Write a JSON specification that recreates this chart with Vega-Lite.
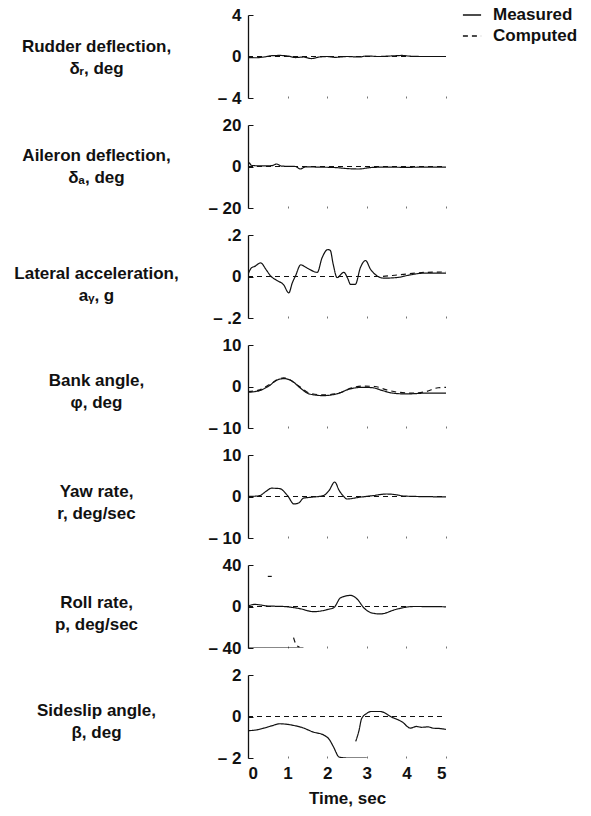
{
"$schema": "https://vega.github.io/schema/vega-lite/v6.json",
"background": "white",
"padding": {"left": 13, "top": 5, "right": 5, "bottom": 5},
"spacing": 27,
"bounds": "flush",
"resolve": {"scale": {"strokeDash": "shared"}, "legend": {"strokeDash": "shared"}},
"config": {
  "font": "Liberation Sans",
  "view": {"stroke": null},
  "axis": {"labelFont": "Liberation Sans", "labelFontWeight": "bold", "labelFontSize": 17, "labelColor": "#111", "titleFont": "Liberation Sans", "titleFontWeight": "bold", "titleFontSize": 17, "titleColor": "#111", "grid": false, "domainColor": "#111", "tickColor": "#111"},
  "axisY": {"domainWidth": 1.3, "tickSize": -5, "tickWidth": 1, "labelPadding": 12, "titleAngle": 0, "titleAlign": "center", "titleBaseline": "middle", "titleX": -152, "titleLineHeight": 22,
    "labelExpr": "(datum.value < 0 ? '– ' : '') + replace(toString(abs(datum.value)), '0.', '.')"},
  "axisX": {"domain": false, "tickSize": -2, "tickColor": "#777", "values": [0, 1, 2, 3, 4, 5]},
  "legend": {"orient": "none", "legendX": 214, "legendY": -10, "title": null, "labelFont": "Liberation Sans", "labelFontWeight": "bold", "labelFontSize": 17, "labelColor": "#111", "symbolType": "stroke", "symbolSize": 330, "symbolStrokeWidth": 1.3, "symbolStrokeColor": "#111", "rowPadding": 3, "labelOffset": 11}
},
"datasets": {"d": [
{"p":"rud","s":"Measured","g":"m1","t":0,"v":-0.1},{"p":"rud","s":"Measured","g":"m1","t":0.2,"v":-0.12},{"p":"rud","s":"Measured","g":"m1","t":0.4,"v":-0.05},{"p":"rud","s":"Measured","g":"m1","t":0.6,"v":0.08},{"p":"rud","s":"Measured","g":"m1","t":0.8,"v":0.1},{"p":"rud","s":"Measured","g":"m1","t":1.0,"v":0.05},{"p":"rud","s":"Measured","g":"m1","t":1.2,"v":-0.1},{"p":"rud","s":"Measured","g":"m1","t":1.4,"v":-0.05},{"p":"rud","s":"Measured","g":"m1","t":1.6,"v":-0.2},{"p":"rud","s":"Measured","g":"m1","t":1.8,"v":-0.05},{"p":"rud","s":"Measured","g":"m1","t":2.0,"v":0.0},{"p":"rud","s":"Measured","g":"m1","t":2.2,"v":-0.08},{"p":"rud","s":"Measured","g":"m1","t":2.5,"v":0.0},{"p":"rud","s":"Measured","g":"m1","t":2.8,"v":-0.05},{"p":"rud","s":"Measured","g":"m1","t":3.0,"v":0.05},{"p":"rud","s":"Measured","g":"m1","t":3.3,"v":0.0},{"p":"rud","s":"Measured","g":"m1","t":3.6,"v":0.05},{"p":"rud","s":"Measured","g":"m1","t":3.9,"v":0.1},{"p":"rud","s":"Measured","g":"m1","t":4.1,"v":0.03},{"p":"rud","s":"Measured","g":"m1","t":4.4,"v":0.0},{"p":"rud","s":"Measured","g":"m1","t":5.0,"v":0.0},
{"p":"rud","s":"Computed","g":"c1","t":0,"v":0},{"p":"rud","s":"Computed","g":"c1","t":5,"v":0},
{"p":"ail","s":"Measured","g":"m1","t":0,"v":0},{"p":"ail","s":"Measured","g":"m1","t":0.03,"v":1.8},{"p":"ail","s":"Measured","g":"m1","t":0.08,"v":0.6},{"p":"ail","s":"Measured","g":"m1","t":0.3,"v":0.3},{"p":"ail","s":"Measured","g":"m1","t":0.6,"v":0.4},{"p":"ail","s":"Measured","g":"m1","t":0.72,"v":1.2},{"p":"ail","s":"Measured","g":"m1","t":0.85,"v":0.2},{"p":"ail","s":"Measured","g":"m1","t":1.2,"v":0.0},{"p":"ail","s":"Measured","g":"m1","t":1.32,"v":-1.2},{"p":"ail","s":"Measured","g":"m1","t":1.45,"v":-0.2},{"p":"ail","s":"Measured","g":"m1","t":1.8,"v":-0.3},{"p":"ail","s":"Measured","g":"m1","t":2.2,"v":-0.5},{"p":"ail","s":"Measured","g":"m1","t":2.5,"v":-1.0},{"p":"ail","s":"Measured","g":"m1","t":2.8,"v":-1.2},{"p":"ail","s":"Measured","g":"m1","t":3.1,"v":-0.5},{"p":"ail","s":"Measured","g":"m1","t":3.5,"v":-0.3},{"p":"ail","s":"Measured","g":"m1","t":4.0,"v":-0.4},{"p":"ail","s":"Measured","g":"m1","t":4.5,"v":-0.3},{"p":"ail","s":"Measured","g":"m1","t":5.0,"v":-0.3},
{"p":"ail","s":"Computed","g":"c1","t":0,"v":0},{"p":"ail","s":"Computed","g":"c1","t":5,"v":0},
{"p":"lat","s":"Measured","g":"m1","t":0,"v":0.01},{"p":"lat","s":"Measured","g":"m1","t":0.08,"v":0.04},{"p":"lat","s":"Measured","g":"m1","t":0.18,"v":0.05},{"p":"lat","s":"Measured","g":"m1","t":0.32,"v":0.066},{"p":"lat","s":"Measured","g":"m1","t":0.45,"v":0.035},{"p":"lat","s":"Measured","g":"m1","t":0.57,"v":0.003},{"p":"lat","s":"Measured","g":"m1","t":0.74,"v":-0.02},{"p":"lat","s":"Measured","g":"m1","t":0.9,"v":-0.04},{"p":"lat","s":"Measured","g":"m1","t":1.03,"v":-0.079},{"p":"lat","s":"Measured","g":"m1","t":1.12,"v":-0.03},{"p":"lat","s":"Measured","g":"m1","t":1.2,"v":0.003},{"p":"lat","s":"Measured","g":"m1","t":1.33,"v":0.056},{"p":"lat","s":"Measured","g":"m1","t":1.5,"v":0.04},{"p":"lat","s":"Measured","g":"m1","t":1.75,"v":0.02},{"p":"lat","s":"Measured","g":"m1","t":1.87,"v":0.09},{"p":"lat","s":"Measured","g":"m1","t":2.02,"v":0.13},{"p":"lat","s":"Measured","g":"m1","t":2.08,"v":0.125},{"p":"lat","s":"Measured","g":"m1","t":2.15,"v":0.06},{"p":"lat","s":"Measured","g":"m1","t":2.25,"v":-0.005},{"p":"lat","s":"Measured","g":"m1","t":2.42,"v":0.02},{"p":"lat","s":"Measured","g":"m1","t":2.52,"v":-0.01},{"p":"lat","s":"Measured","g":"m1","t":2.59,"v":-0.038},{"p":"lat","s":"Measured","g":"m1","t":2.71,"v":-0.038},{"p":"lat","s":"Measured","g":"m1","t":2.84,"v":0.044},{"p":"lat","s":"Measured","g":"m1","t":2.97,"v":0.077},{"p":"lat","s":"Measured","g":"m1","t":3.09,"v":0.036},{"p":"lat","s":"Measured","g":"m1","t":3.26,"v":0.003},{"p":"lat","s":"Measured","g":"m1","t":3.43,"v":-0.008},{"p":"lat","s":"Measured","g":"m1","t":3.76,"v":-0.005},{"p":"lat","s":"Measured","g":"m1","t":4.1,"v":0.008},{"p":"lat","s":"Measured","g":"m1","t":4.44,"v":0.016},{"p":"lat","s":"Measured","g":"m1","t":5.0,"v":0.016},
{"p":"lat","s":"Computed","g":"c1","t":0,"v":0},{"p":"lat","s":"Computed","g":"c1","t":3.3,"v":0},{"p":"lat","s":"Computed","g":"c1","t":3.8,"v":0.008},{"p":"lat","s":"Computed","g":"c1","t":4.5,"v":0.02},{"p":"lat","s":"Computed","g":"c1","t":5.0,"v":0.022},
{"p":"bank","s":"Measured","g":"m1","t":0,"v":-1.4},{"p":"bank","s":"Measured","g":"m1","t":0.29,"v":-1.0},{"p":"bank","s":"Measured","g":"m1","t":0.45,"v":-0.3},{"p":"bank","s":"Measured","g":"m1","t":0.55,"v":0.25},{"p":"bank","s":"Measured","g":"m1","t":0.71,"v":1.5},{"p":"bank","s":"Measured","g":"m1","t":0.92,"v":1.9},{"p":"bank","s":"Measured","g":"m1","t":1.13,"v":1.2},{"p":"bank","s":"Measured","g":"m1","t":1.3,"v":-0.2},{"p":"bank","s":"Measured","g":"m1","t":1.55,"v":-1.8},{"p":"bank","s":"Measured","g":"m1","t":1.9,"v":-2.2},{"p":"bank","s":"Measured","g":"m1","t":2.23,"v":-1.8},{"p":"bank","s":"Measured","g":"m1","t":2.57,"v":-0.6},{"p":"bank","s":"Measured","g":"m1","t":2.9,"v":-0.2},{"p":"bank","s":"Measured","g":"m1","t":3.15,"v":-0.3},{"p":"bank","s":"Measured","g":"m1","t":3.4,"v":-1.0},{"p":"bank","s":"Measured","g":"m1","t":3.66,"v":-1.6},{"p":"bank","s":"Measured","g":"m1","t":4.0,"v":-1.8},{"p":"bank","s":"Measured","g":"m1","t":4.5,"v":-1.6},{"p":"bank","s":"Measured","g":"m1","t":5.0,"v":-1.6},
{"p":"bank","s":"Computed","g":"c1","t":0,"v":-1.2},{"p":"bank","s":"Computed","g":"c1","t":0.3,"v":-0.8},{"p":"bank","s":"Computed","g":"c1","t":0.55,"v":0.5},{"p":"bank","s":"Computed","g":"c1","t":0.9,"v":2.1},{"p":"bank","s":"Computed","g":"c1","t":1.3,"v":0.0},{"p":"bank","s":"Computed","g":"c1","t":1.55,"v":-1.6},{"p":"bank","s":"Computed","g":"c1","t":1.9,"v":-2.0},{"p":"bank","s":"Computed","g":"c1","t":2.3,"v":-1.6},{"p":"bank","s":"Computed","g":"c1","t":2.6,"v":-0.4},{"p":"bank","s":"Computed","g":"c1","t":2.9,"v":0.1},{"p":"bank","s":"Computed","g":"c1","t":3.2,"v":0.0},{"p":"bank","s":"Computed","g":"c1","t":3.5,"v":-0.8},{"p":"bank","s":"Computed","g":"c1","t":3.8,"v":-1.4},{"p":"bank","s":"Computed","g":"c1","t":4.2,"v":-1.6},{"p":"bank","s":"Computed","g":"c1","t":4.5,"v":-1.2},{"p":"bank","s":"Computed","g":"c1","t":4.8,"v":-0.3},{"p":"bank","s":"Computed","g":"c1","t":5.0,"v":-0.2},
{"p":"yaw","s":"Measured","g":"m1","t":0,"v":0},{"p":"yaw","s":"Measured","g":"m1","t":0.29,"v":0.2},{"p":"yaw","s":"Measured","g":"m1","t":0.45,"v":1.2},{"p":"yaw","s":"Measured","g":"m1","t":0.59,"v":2.0},{"p":"yaw","s":"Measured","g":"m1","t":0.8,"v":1.9},{"p":"yaw","s":"Measured","g":"m1","t":1.0,"v":0.2},{"p":"yaw","s":"Measured","g":"m1","t":1.16,"v":-1.8},{"p":"yaw","s":"Measured","g":"m1","t":1.29,"v":-1.5},{"p":"yaw","s":"Measured","g":"m1","t":1.4,"v":-0.4},{"p":"yaw","s":"Measured","g":"m1","t":1.57,"v":-0.2},{"p":"yaw","s":"Measured","g":"m1","t":1.9,"v":0.2},{"p":"yaw","s":"Measured","g":"m1","t":2.05,"v":1.5},{"p":"yaw","s":"Measured","g":"m1","t":2.19,"v":3.5},{"p":"yaw","s":"Measured","g":"m1","t":2.3,"v":1.5},{"p":"yaw","s":"Measured","g":"m1","t":2.4,"v":0.2},{"p":"yaw","s":"Measured","g":"m1","t":2.5,"v":-0.6},{"p":"yaw","s":"Measured","g":"m1","t":2.8,"v":-0.2},{"p":"yaw","s":"Measured","g":"m1","t":3.15,"v":0.2},{"p":"yaw","s":"Measured","g":"m1","t":3.5,"v":0.6},{"p":"yaw","s":"Measured","g":"m1","t":3.76,"v":0.4},{"p":"yaw","s":"Measured","g":"m1","t":3.93,"v":0.1},{"p":"yaw","s":"Measured","g":"m1","t":5.0,"v":-0.1},
{"p":"yaw","s":"Computed","g":"c1","t":0,"v":0},{"p":"yaw","s":"Computed","g":"c1","t":5,"v":0},
{"p":"roll","s":"Measured","g":"m1","t":0,"v":0.6},{"p":"roll","s":"Measured","g":"m1","t":0.17,"v":2.0},{"p":"roll","s":"Measured","g":"m1","t":0.5,"v":0.5},{"p":"roll","s":"Measured","g":"m1","t":0.9,"v":0},{"p":"roll","s":"Measured","g":"m1","t":1.3,"v":-2},{"p":"roll","s":"Measured","g":"m1","t":1.66,"v":-5},{"p":"roll","s":"Measured","g":"m1","t":2.0,"v":-3},{"p":"roll","s":"Measured","g":"m1","t":2.17,"v":-1},{"p":"roll","s":"Measured","g":"m1","t":2.34,"v":8.5},{"p":"roll","s":"Measured","g":"m1","t":2.59,"v":10.7},{"p":"roll","s":"Measured","g":"m1","t":2.76,"v":7},{"p":"roll","s":"Measured","g":"m1","t":2.92,"v":-1},{"p":"roll","s":"Measured","g":"m1","t":3.13,"v":-6.3},{"p":"roll","s":"Measured","g":"m1","t":3.34,"v":-7.2},{"p":"roll","s":"Measured","g":"m1","t":3.76,"v":-2.5},{"p":"roll","s":"Measured","g":"m1","t":4.18,"v":0},{"p":"roll","s":"Measured","g":"m1","t":5.0,"v":-0.3},
{"p":"roll","s":"Measured","g":"m2","t":0,"v":-40},{"p":"roll","s":"Measured","g":"m2","t":1.4,"v":-40},
{"p":"roll","s":"Computed","g":"c1","t":0,"v":0},{"p":"roll","s":"Computed","g":"c1","t":5,"v":0},
{"p":"roll","s":"Computed","g":"c2","t":0.5,"v":29},{"p":"roll","s":"Computed","g":"c2","t":0.6,"v":29},
{"p":"roll","s":"Computed","g":"c3","t":1.15,"v":-30},{"p":"roll","s":"Computed","g":"c3","t":1.22,"v":-37},{"p":"roll","s":"Computed","g":"c3","t":1.3,"v":-39},
{"p":"side","s":"Measured","g":"m1","t":0,"v":-0.68},{"p":"side","s":"Measured","g":"m1","t":0.2,"v":-0.65},{"p":"side","s":"Measured","g":"m1","t":0.4,"v":-0.56},{"p":"side","s":"Measured","g":"m1","t":0.6,"v":-0.45},{"p":"side","s":"Measured","g":"m1","t":0.8,"v":-0.35},{"p":"side","s":"Measured","g":"m1","t":1.0,"v":-0.38},{"p":"side","s":"Measured","g":"m1","t":1.2,"v":-0.45},{"p":"side","s":"Measured","g":"m1","t":1.35,"v":-0.52},{"p":"side","s":"Measured","g":"m1","t":1.65,"v":-0.75},{"p":"side","s":"Measured","g":"m1","t":1.92,"v":-0.9},{"p":"side","s":"Measured","g":"m1","t":2.05,"v":-1.1},{"p":"side","s":"Measured","g":"m1","t":2.16,"v":-1.47},{"p":"side","s":"Measured","g":"m1","t":2.3,"v":-1.95},{"p":"side","s":"Measured","g":"m1","t":2.5,"v":-2.0},{"p":"side","s":"Measured","g":"m1","t":3.0,"v":-2.0},
{"p":"side","s":"Measured","g":"m2","t":2.72,"v":-1.2},{"p":"side","s":"Measured","g":"m2","t":2.8,"v":-0.7},{"p":"side","s":"Measured","g":"m2","t":2.87,"v":-0.1},{"p":"side","s":"Measured","g":"m2","t":3.0,"v":0.15},{"p":"side","s":"Measured","g":"m2","t":3.1,"v":0.24},{"p":"side","s":"Measured","g":"m2","t":3.34,"v":0.24},{"p":"side","s":"Measured","g":"m2","t":3.63,"v":-0.03},{"p":"side","s":"Measured","g":"m2","t":3.9,"v":-0.27},{"p":"side","s":"Measured","g":"m2","t":4.1,"v":-0.56},{"p":"side","s":"Measured","g":"m2","t":4.25,"v":-0.48},{"p":"side","s":"Measured","g":"m2","t":4.38,"v":-0.52},{"p":"side","s":"Measured","g":"m2","t":4.55,"v":-0.5},{"p":"side","s":"Measured","g":"m2","t":4.67,"v":-0.56},{"p":"side","s":"Measured","g":"m2","t":4.85,"v":-0.58},{"p":"side","s":"Measured","g":"m2","t":5.0,"v":-0.62},
{"p":"side","s":"Computed","g":"c1","t":0,"v":0},{"p":"side","s":"Computed","g":"c1","t":5,"v":0}
]},
"vconcat": [
{"width": 198, "height": 83, "data": {"name": "d"}, "transform": [{"filter": "datum.p == 'rud'"}],
 "mark": {"type": "line", "color": "#111", "strokeWidth": 1.2, "interpolate": "monotone", "clip": true},
 "encoding": {
  "x": {"field": "t", "type": "quantitative", "scale": {"domain": [0, 5], "nice": false}, "axis": {"title": null, "labels": false}},
  "y": {"field": "v", "type": "quantitative", "scale": {"domain": [-4, 4], "nice": false}, "axis": {"values": [-4, 0, 4], "title": ["Rudder deflection,", "δᵣ, deg"], "titleY": 31}},
  "strokeDash": {"field": "s", "type": "nominal", "scale": {"domain": ["Measured", "Computed"], "range": [[1, 0], [5, 4]]}},
  "detail": {"field": "g"}}},
{"width": 198, "height": 83, "data": {"name": "d"}, "transform": [{"filter": "datum.p == 'ail'"}],
 "mark": {"type": "line", "color": "#111", "strokeWidth": 1.2, "interpolate": "monotone", "clip": true},
 "encoding": {
  "x": {"field": "t", "type": "quantitative", "scale": {"domain": [0, 5], "nice": false}, "axis": {"title": null, "labels": false}},
  "y": {"field": "v", "type": "quantitative", "scale": {"domain": [-20, 20], "nice": false}, "axis": {"values": [-20, 0, 20], "title": ["Aileron deflection,", "δₐ, deg"], "titleY": 30}},
  "strokeDash": {"field": "s", "type": "nominal", "scale": {"domain": ["Measured", "Computed"], "range": [[1, 0], [5, 4]]}},
  "detail": {"field": "g"}}},
{"width": 198, "height": 83,
 "layer": [
  {"mark": {"type": "rule", "color": "#333", "strokeWidth": 0.8}, "encoding": {"y": {"datum": 0}}},
  {"data": {"name": "d"}, "transform": [{"filter": "datum.p == 'lat'"}],
   "mark": {"type": "line", "color": "#111", "strokeWidth": 1.2, "interpolate": "monotone", "clip": true},
   "encoding": {
    "x": {"field": "t", "type": "quantitative", "scale": {"domain": [0, 5], "nice": false}, "axis": {"title": null, "labels": false}},
    "y": {"field": "v", "type": "quantitative", "scale": {"domain": [-0.2, 0.2], "nice": false}, "axis": {"values": [-0.2, 0, 0.2], "title": ["Lateral acceleration,", "aᵧ, g"], "titleY": 38}},
    "strokeDash": {"field": "s", "type": "nominal", "scale": {"domain": ["Measured", "Computed"], "range": [[1, 0], [5, 4]]}},
    "detail": {"field": "g"}}}
 ]},
{"width": 198, "height": 83, "data": {"name": "d"}, "transform": [{"filter": "datum.p == 'bank'"}],
 "mark": {"type": "line", "color": "#111", "strokeWidth": 1.2, "interpolate": "monotone", "clip": true},
 "encoding": {
  "x": {"field": "t", "type": "quantitative", "scale": {"domain": [0, 5], "nice": false}, "axis": {"title": null, "labels": false}},
  "y": {"field": "v", "type": "quantitative", "scale": {"domain": [-10, 10], "nice": false}, "axis": {"values": [-10, 0, 10], "title": ["Bank angle,", "φ, deg"], "titleY": 35}},
  "strokeDash": {"field": "s", "type": "nominal", "scale": {"domain": ["Measured", "Computed"], "range": [[1, 0], [5, 4]]}},
  "detail": {"field": "g"}}},
{"width": 198, "height": 83, "data": {"name": "d"}, "transform": [{"filter": "datum.p == 'yaw'"}],
 "mark": {"type": "line", "color": "#111", "strokeWidth": 1.2, "interpolate": "monotone", "clip": true},
 "encoding": {
  "x": {"field": "t", "type": "quantitative", "scale": {"domain": [0, 5], "nice": false}, "axis": {"title": null, "labels": false}},
  "y": {"field": "v", "type": "quantitative", "scale": {"domain": [-10, 10], "nice": false}, "axis": {"values": [-10, 0, 10], "title": ["Yaw rate,", "r, deg/sec"], "titleY": 36}},
  "strokeDash": {"field": "s", "type": "nominal", "scale": {"domain": ["Measured", "Computed"], "range": [[1, 0], [5, 4]]}},
  "detail": {"field": "g"}}},
{"width": 198, "height": 83, "data": {"name": "d"}, "transform": [{"filter": "datum.p == 'roll'"}],
 "mark": {"type": "line", "color": "#111", "strokeWidth": 1.2, "interpolate": "monotone", "clip": true},
 "encoding": {
  "x": {"field": "t", "type": "quantitative", "scale": {"domain": [0, 5], "nice": false}, "axis": {"title": null, "labels": false}},
  "y": {"field": "v", "type": "quantitative", "scale": {"domain": [-40, 40], "nice": false}, "axis": {"values": [-40, 0, 40], "title": ["Roll rate,", "p, deg/sec"], "titleY": 37}},
  "strokeDash": {"field": "s", "type": "nominal", "scale": {"domain": ["Measured", "Computed"], "range": [[1, 0], [5, 4]]}},
  "detail": {"field": "g"}}},
{"width": 198, "height": 83, "data": {"name": "d"}, "transform": [{"filter": "datum.p == 'side'"}],
 "mark": {"type": "line", "color": "#111", "strokeWidth": 1.2, "interpolate": "monotone", "clip": true},
 "encoding": {
  "x": {"field": "t", "type": "quantitative", "scale": {"domain": [0, 5], "nice": false}, "axis": {"title": "Time, sec", "labels": true, "labelPadding": 9, "titlePadding": 9}},
  "y": {"field": "v", "type": "quantitative", "scale": {"domain": [-2, 2], "nice": false}, "axis": {"values": [-2, 0, 2], "title": ["Sideslip angle,", "β, deg"], "titleY": 35}},
  "strokeDash": {"field": "s", "type": "nominal", "scale": {"domain": ["Measured", "Computed"], "range": [[1, 0], [5, 4]]}},
  "detail": {"field": "g"}}}
]
}
